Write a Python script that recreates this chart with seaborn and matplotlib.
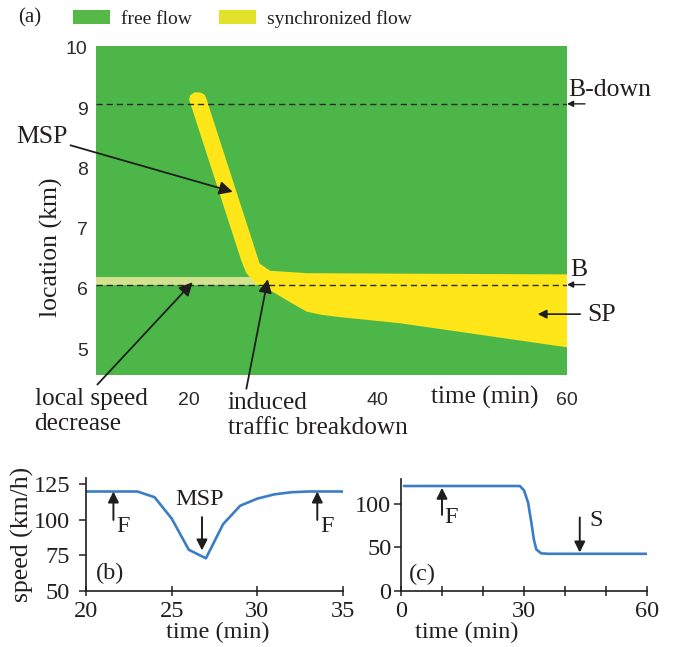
import matplotlib
matplotlib.use("Agg")
import matplotlib.pyplot as plt
import numpy as np
import pandas as pd
import seaborn as sns
from matplotlib.patches import Patch

# ---------------- data ----------------
# panel (a): synchronized-flow region boundaries (time in min, location in km)
msp_left_t = [20.05, 25.6, 26.1, 27.0, 27.7]
msp_left_loc = [9.14, 6.45, 6.26, 6.10, 6.03]
sp_lower_t = [28.9, 30.7, 32.5, 34.0, 36.0, 42.3, 60.0]
sp_lower_loc = [5.95, 5.78, 5.62, 5.57, 5.53, 5.43, 5.03]
sp_upper_t = [60.0, 45.0, 32.5]
sp_upper_loc = [6.24, 6.25, 6.26]
msp_right_t = [28.6, 27.5, 21.9]
msp_right_loc = [6.30, 6.42, 9.14]
cap_t = [21.7, 21.2, 20.6, 20.15]
cap_loc = [9.22, 9.26, 9.26, 9.21]
# local speed decrease (light band)
lsd_t = [10.0, 27.3]
lsd_loc = [6.06, 6.20]
# detector locations (dashed lines)
b_down_loc = 9.07
b_loc = 6.07
a_xticks = [20, 40, 60]
a_yticks = [5, 6, 7, 8, 9, 10]

# panel (b): speed at MSP location
b_time = [20, 23, 24, 25, 26, 27, 28, 29, 30, 31, 32, 33, 35]
b_speed = [120, 120, 116, 101, 79, 73, 97, 110, 115, 118, 119.5, 120, 120]
b_yticks = [50, 75, 100, 125]
b_xticks = [20, 25, 30, 35]

# panel (c): speed at bottleneck
c_time = [0.7, 29.0, 30.0, 31.0, 31.8, 32.4, 33.0, 34.2, 36.0, 60.0]
c_speed = [120, 120, 115, 101, 78, 59, 47.5, 43, 42.5, 42.5]
c_yticks = [0, 50, 100]
c_xticks = [0, 10, 20, 30, 40, 50, 60]
c_xticklabels = ["0", "", "", "30", "", "", "60"]

# ---------------- style ----------------
sns.set_style("ticks")
plt.rcParams["font.family"] = ["Liberation Serif", "DejaVu Serif"]
TXT = "#231f20"
GREEN = "#4cb748"
YELLOW = "#ffe619"
LIGHT = "#d3e28e"
LEG_GREEN = "#56b947"
LEG_YELLOW = "#e2e22a"
BLUE = "#3b7dc4"
FS = 17.5
FSA = 18.2

W, H = 676, 647
fig = plt.figure(figsize=(W / 100, H / 100), dpi=100)


def px_axes(l, t, r, b):
    return [l / W, 1 - b / H, (r - l) / W, (b - t) / H]


# ---------------- panel (a) ----------------
ax = fig.add_axes(px_axes(96, 46, 567, 375))
ax.set_xlim(10.2, 60)
ax.set_ylim(4.57, 10.03)
ax.set_facecolor(GREEN)
for s in ax.spines.values():
    s.set_visible(False)

ax.fill_between(lsd_t, lsd_loc[0], lsd_loc[1], color=LIGHT, lw=0, zorder=1)

poly_t = msp_left_t + sp_lower_t + sp_upper_t + msp_right_t + cap_t
poly_loc = msp_left_loc + sp_lower_loc + sp_upper_loc + msp_right_loc + cap_loc
ax.fill(poly_t, poly_loc, color=YELLOW, lw=0, zorder=2)

for yv in (b_down_loc, b_loc):
    ax.axhline(yv, color="#2a2a2a", lw=1.0, dashes=(4.5, 2.8), zorder=3)

ax.set_xticks(a_xticks)
ax.set_yticks(a_yticks)
ax.tick_params(axis="both", length=0, labelsize=14, colors="#2b2b2b")
ax.tick_params(axis="x", pad=12)
ax.tick_params(axis="y", pad=6)
for lbl in ax.get_xticklabels() + ax.get_yticklabels():
    lbl.set_fontfamily("Liberation Sans")
ax.set_ylabel("location (km)", fontsize=18.5, color=TXT)
ax.yaxis.set_label_coords(-0.070, 0.389)
ax.text(51.3, -0.067, "time (min)", transform=ax.get_xaxis_transform(),
        fontsize=FSA, color=TXT, ha="center", va="center")

big_arrow = dict(arrowstyle="-|>", color="#1e1e1e", lw=1.3, mutation_scale=20,
                 shrinkA=0, shrinkB=0)
ax.annotate("MSP", xy=(24.66, 7.61), xytext=(4.44, 8.52), fontsize=18.5, color=TXT,
            ha="center", va="center", arrowprops=big_arrow, annotation_clip=False)
ax.annotate("local speed\ndecrease", xy=(20.42, 6.11), xytext=(3.7, 3.97),
            fontsize=FSA, color=TXT, ha="left", va="center", linespacing=1.16,
            arrowprops=dict(big_arrow, relpos=(0.53, 1.0)), annotation_clip=False)
ax.annotate("induced\ntraffic breakdown", xy=(28.36, 6.16), xytext=(24.13, 3.90),
            fontsize=FSA, color=TXT, ha="left", va="center", linespacing=1.16,
            arrowprops=dict(big_arrow, relpos=(0.10, 1.0)), annotation_clip=False)

small_arrow = dict(arrowstyle="-|>", color="#1e1e1e", lw=1.0, mutation_scale=9,
                   shrinkA=0, shrinkB=0)
ax.text(60.1, 9.30, "B-down", fontsize=18.5, color=TXT, ha="left", va="center")
ax.annotate("", xy=(60, b_down_loc), xytext=(61.9, b_down_loc),
            arrowprops=small_arrow, annotation_clip=False)
ax.text(60.3, 6.31, "B", fontsize=18.5, color=TXT, ha="left", va="center")
ax.annotate("", xy=(60, b_loc), xytext=(61.9, b_loc),
            arrowprops=small_arrow, annotation_clip=False)
ax.text(62.1, 5.56, "SP", fontsize=18.5, color=TXT, ha="left", va="center")
ax.annotate("", xy=(56.9, 5.58), xytext=(61.4, 5.58),
            arrowprops=dict(small_arrow, lw=1.2, mutation_scale=13),
            annotation_clip=False)

# legend and panel label
fig.text(18 / W, 1 - 18 / H, "(a)", fontsize=15, color=TXT, ha="left", va="center")
handles = [Patch(facecolor=LEG_GREEN, edgecolor="none"),
           Patch(facecolor=LEG_YELLOW, edgecolor="none")]
fig.legend(handles, ["free flow", "synchronized flow"], ncol=2, frameon=False,
           loc="center left", bbox_to_anchor=(73 / W, 1 - 19 / H),
           fontsize=14, handlelength=1.9, handleheight=0.72, handletextpad=0.57,
           columnspacing=1.39, borderpad=0, borderaxespad=0, labelcolor=TXT)

# ---------------- panel (b) ----------------
axb = fig.add_axes(px_axes(86, 478, 343, 591))
dfb = pd.DataFrame({"time": b_time, "speed": b_speed})
sns.lineplot(data=dfb, x="time", y="speed", ax=axb, color=BLUE, lw=1.9)
axb.set_xlim(20, 35)
axb.set_ylim(50, 129.5)
axb.set_xticks(b_xticks)
axb.set_yticks(b_yticks)

# ---------------- panel (c) ----------------
axc = fig.add_axes(px_axes(401, 479, 647, 591))
dfc = pd.DataFrame({"time": c_time, "speed": c_speed})
sns.lineplot(data=dfc, x="time", y="speed", ax=axc, color=BLUE, lw=1.9)
axc.set_xlim(0, 60)
axc.set_ylim(0, 128)
axc.set_xticks(c_xticks)
axc.set_xticklabels(c_xticklabels)
axc.set_yticks(c_yticks)

for a in (axb, axc):
    sns.despine(ax=a)
    for s in ("left", "bottom"):
        a.spines[s].set_color("#1e1e1e")
        a.spines[s].set_linewidth(1.2)
    a.tick_params(axis="x", direction="inout", length=7, width=1.1,
                  labelsize=FS, colors=TXT, pad=4.0)
    a.set_xlabel("time (min)", fontsize=FS, color=TXT)
    a.set_ylabel("")
axb.tick_params(axis="y", direction="out", length=5, width=1.1,
                labelsize=FS, colors=TXT, pad=6.5)
axc.tick_params(axis="y", direction="out", length=5, width=1.1,
                labelsize=FS, colors=TXT, pad=2)

axb.set_ylabel("speed (km/h)", fontsize=18.5, color=TXT)
axb.yaxis.set_label_coords(-0.202, 0.5)
axb.xaxis.set_label_coords(0.514, -0.275)
axc.xaxis.set_label_coords(0.268, -0.275)

mid_arrow = dict(arrowstyle="-|>", color="#1e1e1e", lw=1.4, mutation_scale=16,
                 shrinkA=0, shrinkB=0)
axb.text(21.4, 62.5, "(b)", fontsize=FS, color=TXT, ha="center", va="center")
axb.text(26.65, 114.4, "MSP", fontsize=FS, color=TXT, ha="center", va="center")
axb.annotate("", xy=(26.77, 78.5), xytext=(26.77, 102), arrowprops=mid_arrow)
axb.annotate("", xy=(21.6, 120), xytext=(21.6, 100), arrowprops=mid_arrow)
axb.text(22.16, 95.5, "F", fontsize=FS, color=TXT, ha="center", va="center")
axb.annotate("", xy=(33.5, 120), xytext=(33.5, 100), arrowprops=mid_arrow)
axb.text(34.07, 95.5, "F", fontsize=FS, color=TXT, ha="center", va="center")

axc.text(5.1, 18.8, "(c)", fontsize=FS, color=TXT, ha="center", va="center")
axc.annotate("", xy=(10, 118), xytext=(10, 87), arrowprops=mid_arrow)
axc.text(12.3, 84, "F", fontsize=FS, color=TXT, ha="center", va="center")
axc.annotate("", xy=(43.6, 44), xytext=(43.6, 84), arrowprops=mid_arrow)
axc.text(47.5, 80, "S", fontsize=FS, color=TXT, ha="center", va="center")

fig.savefig("out.png", dpi=100)
